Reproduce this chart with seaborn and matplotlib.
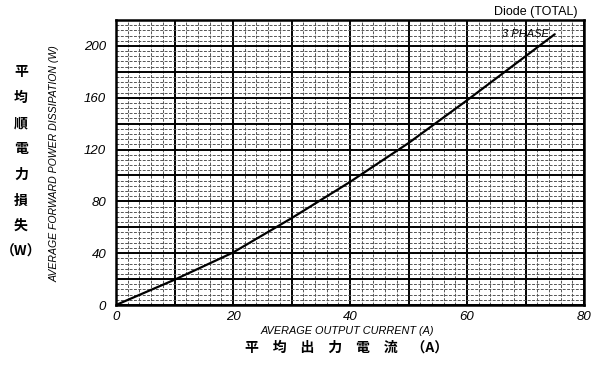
import matplotlib
matplotlib.use("Agg")
import matplotlib.pyplot as plt
import seaborn as sns
import pandas as pd
from matplotlib.ticker import MultipleLocator, FuncFormatter

current = [0, 10, 20, 30, 40, 50, 60, 70, 75]
power = [0, 19.5, 40.5, 67, 95, 125, 158, 192, 209]
x_ticks = [0, 20, 40, 60, 80]
y_ticks = [0, 40, 80, 120, 160, 200]

sns.set_theme(style="white")
plt.rcParams['font.family'] = ['Liberation Sans', 'DejaVu Sans']

df = pd.DataFrame({"current": current, "power": power})

fig = plt.figure(figsize=(5.96, 3.68), dpi=100)
ax = fig.add_axes([116/596, 1-305/368, (584-116)/596, (305-20)/368])

sns.lineplot(data=df, x="current", y="power", ax=ax, color="black", linewidth=1.6)

ax.xaxis.set_major_locator(MultipleLocator(10))
ax.xaxis.set_minor_locator(MultipleLocator(2))
ax.yaxis.set_major_locator(MultipleLocator(20))
ax.yaxis.set_minor_locator(MultipleLocator(4))
ax.set_xlim(0, 80)
ax.set_ylim(0, 220)
ax.xaxis.set_major_formatter(FuncFormatter(lambda v, p: f"{int(round(v))}" if int(round(v)) in x_ticks else ""))
ax.yaxis.set_major_formatter(FuncFormatter(lambda v, p: f"{int(round(v))}" if int(round(v)) in y_ticks else ""))

ax.grid(which="major", color="black", linewidth=1.4, linestyle="-")
ax.grid(which="minor", color="#555555", linewidth=0.7, linestyle=(0, (3, 1.5)))
ax.set_axisbelow(True)

ax.tick_params(axis="x", which="both", length=0, pad=4, labelsize=9.5, labelcolor="black")
ax.tick_params(axis="y", which="both", length=0, pad=7, labelsize=9.5, labelcolor="black")
for lbl in ax.get_xticklabels() + ax.get_yticklabels():
    lbl.set_fontstyle("italic")

for s in ax.spines.values():
    s.set_visible(True)
    s.set_color("black")
    s.set_linewidth(1.8)

ax.set_xlabel("")
ax.set_ylabel("")

fig.text(347/596, 1-331/368, "AVERAGE OUTPUT CURRENT (A)", ha="center", va="center",
         fontsize=7.8, fontstyle="italic", color="black")
fig.text(347/596, 1-348/368, "平　均　出　力　電　流　（A）", ha="center", va="center",
         fontsize=10, color="black", family=['Noto Sans CJK JP', 'DejaVu Sans'], fontweight="bold")
fig.text(55/596, 1-164/368, "AVERAGE FORWARD POWER DISSIPATION (W)", ha="center", va="center",
         rotation=90, fontsize=7.6, fontstyle="italic", color="black")

jp_chars = ["平", "均", "順", "電", "力", "損", "失", "（W）"]
y0 = 72
for i, ch in enumerate(jp_chars):
    fig.text(21/596, 1-(y0 + i*25.7)/368, ch, ha="center", va="center",
             fontsize=10, color="black", family=['Noto Sans CJK JP', 'DejaVu Sans'], fontweight="bold")

fig.text(578/596, 1-12/368, "Diode (TOTAL)", ha="right", va="center", fontsize=9, color="black")
ax.text(74, 209, "3 PHASE", ha="right", va="center", fontsize=8, fontstyle="italic", color="black")

fig.savefig("out.png", dpi=100, facecolor="white")
